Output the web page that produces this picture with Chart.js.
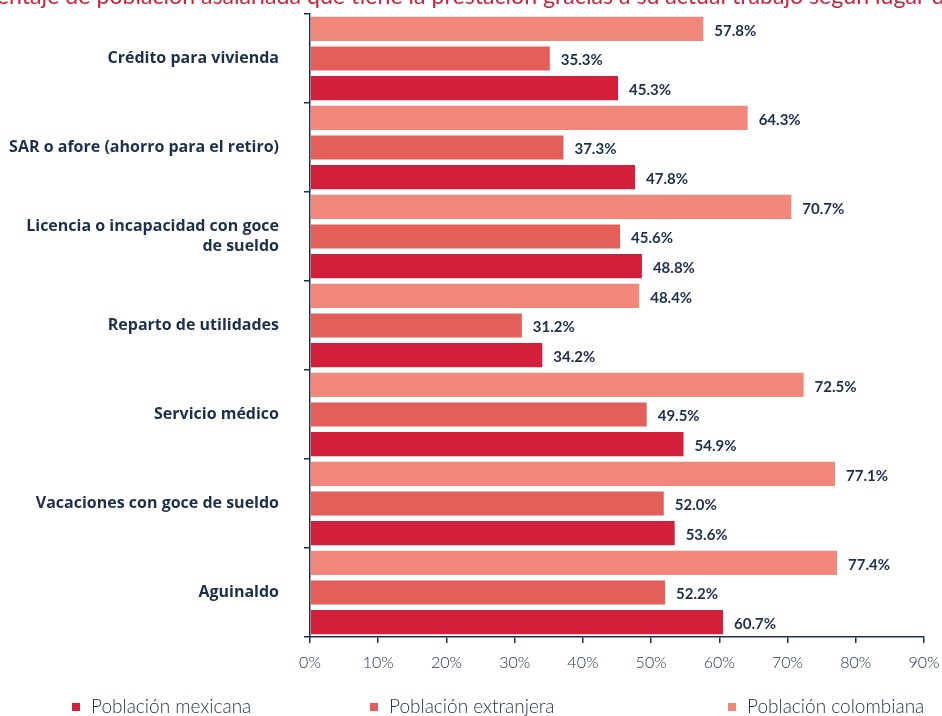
<!DOCTYPE html>
<html>
<head>
<meta charset="utf-8">
<script src="https://cdn.jsdelivr.net/npm/chart.js@4.4.1/dist/chart.umd.min.js"></script>
<style>
    html, body { margin: 0; padding: 0; background: #fff; }
    #wrap { position: relative; width: 942px; height: 716px; overflow: hidden; }
    #legend { position: absolute; top: 694px; left: 0; width: 942px; height: 22px; font-family: Lato, sans-serif; font-weight: 300; font-size: 19px; color: #1c2f4d; }
    #legend span.item { position: absolute; top: 0; white-space: nowrap; }
    #legend span.box { display: inline-block; width: 8px; height: 8px; margin-right: 11px; vertical-align: 2px; }
</style>
</head>
<body>
<div id="wrap">
    <canvas id="chart" width="942" height="716"></canvas>
    <div id="legend"></div>
</div>
<script>
// Data
const categories = [
    'Crédito para vivienda',
    'SAR o afore (ahorro para el retiro)',
    ['Licencia o incapacidad con goce', 'de sueldo'],
    'Reparto de utilidades',
    'Servicio médico',
    'Vacaciones con goce de sueldo',
    'Aguinaldo'
];
const colombiana = [57.8, 64.3, 70.7, 48.4, 72.5, 77.1, 77.4];
const extranjera = [35.3, 37.3, 45.6, 31.2, 49.5, 52.0, 52.2];
const mexicana = [45.3, 47.8, 48.8, 34.2, 54.9, 53.6, 60.7];
const xTicks = [0, 10, 20, 30, 40, 50, 60, 70, 80, 90];

const titleText = 'Porcentaje de población asalariada que tiene la prestación gracias a su actual trabajo según lugar de nacimiento';

const navy = '#1c2f4d';
const colors = { mexicana: '#d21f3c', extranjera: '#e3605a', colombiana: '#f2877b' };

// Title, clipped at the top and sides like the original
const titlePlugin = {
    id: 'cutTitle',
    afterDraw(chart) {
        const ctx = chart.ctx;
        ctx.save();
        ctx.font = '19px Lato, sans-serif';
        // scale so that "entaje ... lugar d" spans the canvas width
        const visible = 'entaje de población asalariada que tiene la prestación gracias a su actual trabajo según lugar d';
        const size = 19 * 948 / ctx.measureText(visible).width;
        ctx.font = size + 'px Lato, sans-serif';
        ctx.fillStyle = colors.mexicana;
        ctx.textBaseline = 'alphabetic';
        ctx.textAlign = 'left';
        const lead = ctx.measureText('Porc').width;
        ctx.fillText(titleText, -lead - 3, 4);
        ctx.restore();
    }
};

// Value labels at bar ends
const valueLabels = {
    id: 'valueLabels',
    afterDatasetsDraw(chart) {
        const ctx = chart.ctx;
        ctx.save();
        ctx.font = 'bold 15px Lato, sans-serif';
        ctx.fillStyle = navy;
        ctx.textBaseline = 'middle';
        ctx.textAlign = 'left';
        chart.data.datasets.forEach((ds, i) => {
            chart.getDatasetMeta(i).data.forEach((bar, j) => {
                ctx.fillText(ds.data[j].toFixed(1) + '%', bar.x + 10, bar.y + 2);
            });
        });
        ctx.restore();
    }
};

const chart = new Chart(document.getElementById('chart'), {
    type: 'bar',
    data: {
        labels: categories,
        datasets: [
            { label: 'Población colombiana', data: colombiana, backgroundColor: colors.colombiana },
            { label: 'Población extranjera', data: extranjera, backgroundColor: colors.extranjera },
            { label: 'Población mexicana', data: mexicana, backgroundColor: colors.mexicana }
        ]
    },
    options: {
        indexAxis: 'y',
        responsive: false,
        animation: false,
        layout: { padding: { top: 14, right: 18, left: 0, bottom: 39 } },
        datasets: {
            bar: {
                barPercentage: 0.88,
                categoryPercentage: 1,
                borderColor: 'rgba(255,255,255,0.35)',
                borderWidth: 1
            }
        },
        plugins: {
            legend: { display: false },
            tooltip: { enabled: false }
        },
        scales: {
            x: {
                min: 0,
                max: 90,
                afterBuildTicks(scale) { scale.ticks = xTicks.map(v => ({ value: v })); },
                afterFit(scale) {
                    scale.height = 40;
                    scale.paddingLeft = 0;
                    scale.paddingRight = 0;
                },
                border: { color: navy, width: 1.5 },
                grid: { drawOnChartArea: false, tickLength: 6, color: navy, lineWidth: 1.5 },
                ticks: {
                    color: navy,
                    padding: 10,
                    font: { family: 'Lato, sans-serif', size: 16, weight: '300' },
                    callback: v => v + '%'
                }
            },
            y: {
                afterFit(scale) {
                    scale.width = 310;
                    scale.paddingTop = 0;
                    scale.paddingBottom = 0;
                },
                border: { color: navy, width: 1.5 },
                grid: { drawOnChartArea: false, offset: true, tickLength: 6, color: navy, lineWidth: 1.5 },
                ticks: {
                    color: navy,
                    padding: 25,
                    font: { family: '"Open Sans", sans-serif', size: 16, weight: 'bold', lineHeight: 1.25 }
                }
            }
        }
    },
    plugins: [titlePlugin, valueLabels]
});

// Legend (mexicana, extranjera, colombiana)
const legendItems = [
    { label: 'Población mexicana', color: colors.mexicana, left: 72 },
    { label: 'Población extranjera', color: colors.extranjera, left: 370 },
    { label: 'Población colombiana', color: colors.colombiana, left: 728 }
];
const legendEl = document.getElementById('legend');
legendItems.forEach(item => {
    const span = document.createElement('span');
    span.className = 'item';
    span.style.left = item.left + 'px';
    span.innerHTML = `<span class="box" style="background:${item.color}"></span>${item.label}`;
    legendEl.appendChild(span);
});
</script>
</body>
</html>
